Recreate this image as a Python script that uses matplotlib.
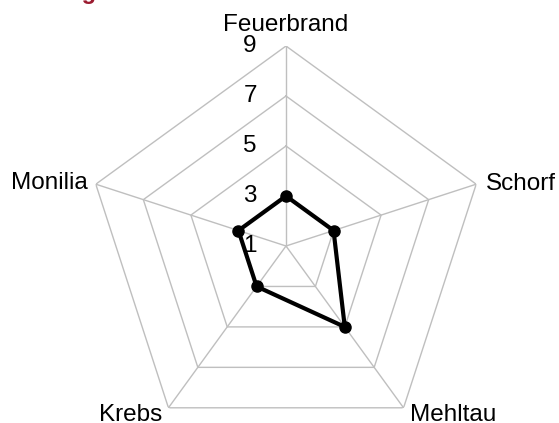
import numpy as np
import matplotlib.pyplot as plt

plt.rcParams['font.family'] = ['Liberation Sans', 'DejaVu Sans']

categories = ["Feuerbrand", "Schorf", "Mehltau", "Krebs", "Monilia"]
values = [3, 3, 5, 3, 3]
ring_ticks = [1, 3, 5, 7, 9]

fig = plt.figure(figsize=(5.59, 4.23), dpi=100)
ax = fig.add_axes([86 / 559, -23 / 423, 400 / 559, 400 / 423], projection="polar")
ax.set_theta_zero_location("N")
ax.set_theta_direction(-1)
ax.set_ylim(1, 9)
ax.grid(False)
ax.spines["polar"].set_visible(False)
ax.set_xticks([])
ax.set_yticks([])
ax.patch.set_alpha(0)

n = len(categories)
theta = np.arange(n) * 2 * np.pi / n
theta_closed = np.append(theta, theta[0])

grid_col = "#bfbfbf"
# pentagon rings
for r in ring_ticks[1:]:
    ax.plot(theta_closed, [r] * (n + 1), color=grid_col, lw=1.0, zorder=1)
# spokes
for t in theta:
    ax.plot([t, t], [1, 9], color=grid_col, lw=1.0, zorder=1)

# data
vals_closed = values + values[:1]
ax.plot(theta_closed, vals_closed, color="black", lw=3, zorder=3)
ax.plot(theta, values, "o", color="black", ms=8, zorder=4)

# ring labels
for r in ring_ticks:
    ax.annotate(str(r), xy=(0, r), xytext=(-21, 0), textcoords="offset points",
                ha="right", va="center", fontsize=17.5)

# category labels
lab_pos = [((0, 11), "center"),
           ((7, -4), "left"),
           ((4.3, -9.4), "left"),
           ((-4.3, -9.4), "right"),
           ((-5.8, -3.5), "right")]
for t, name, (off, ha) in zip(theta, categories, lab_pos):
    ax.annotate(name, xy=(t, 9), xytext=off, textcoords="offset points",
                ha=ha, va="baseline", fontsize=17.5)

fig.text(97 / 559, 1 + 1 / 423, "Bewertung", ha="right", va="baseline",
         fontsize=17, fontweight="bold", color="#9b1b30")

fig.savefig("out.png", dpi=100)
